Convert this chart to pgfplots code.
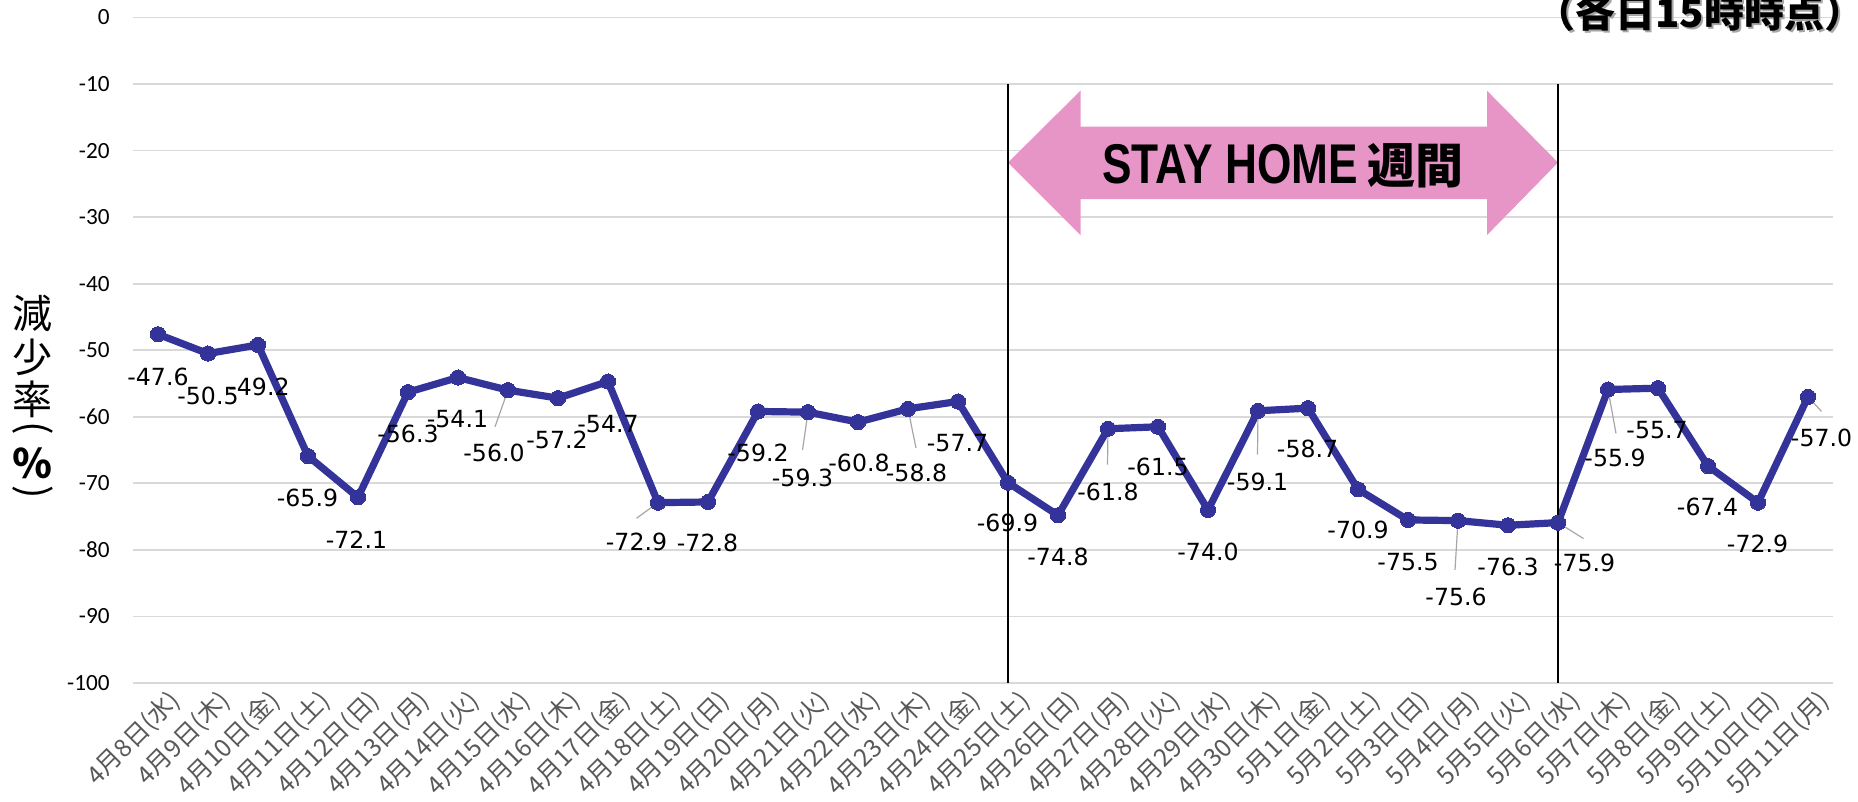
\documentclass[border=0pt]{standalone}
\usepackage{pgfplots}
\pgfplotsset{compat=1.18}
\usepackage{pgfplotstable}
\usepackage{fontspec}
\setmainfont{DejaVu Sans}
\newfontfamily\cjk{Noto Sans CJK JP}
\newfontfamily\carl{Carlito}
\newfontfamily\lsans{Liberation Sans}
\definecolor{navyc}{RGB}{51,51,153}
\definecolor{gridc}{RGB}{217,217,217}
\definecolor{tickc}{RGB}{89,89,89}
\definecolor{leadc}{RGB}{166,166,166}
\definecolor{pinkc}{RGB}{231,149,198}

\pgfplotstableread{
x y lx ly
0 -47.6 0.00 -54.0
1 -50.5 1.00 -56.8
2 -49.2 2.02 -55.5
3 -65.9 2.99 -72.2
4 -72.1 3.97 -78.4
5 -56.3 5.00 -62.5
6 -54.1 5.99 -60.4
7 -56.0 6.72 -65.4
8 -57.2 7.98 -63.5
9 -54.7 9.00 -61.1
10 -72.9 9.57 -78.8
11 -72.8 10.99 -79.0
12 -59.2 12.00 -65.5
13 -59.3 12.89 -69.2
14 -60.8 14.02 -67.0
15 -58.8 15.17 -68.5
16 -57.7 15.99 -63.9
17 -69.9 16.99 -76.0
18 -74.8 18.00 -81.0
19 -61.8 19.00 -71.3
20 -61.5 20.00 -67.6
21 -74.0 21.00 -80.3
22 -59.1 21.99 -69.8
23 -58.7 22.99 -64.9
24 -70.9 24.00 -77.0
25 -75.5 25.00 -81.8
26 -75.6 25.96 -87.0
27 -76.3 27.00 -82.5
28 -75.9 28.53 -82.0
29 -55.9 29.14 -66.2
30 -55.7 29.98 -62.0
31 -67.4 30.99 -73.5
32 -72.9 31.99 -79.1
33 -57.0 33.27 -63.2
}\data

\begin{document}
\begin{tikzpicture}
\begin{axis}[
  at={(0,0)}, anchor=south west,
  scale only axis, width=850pt, height=332.75pt,
  xmin=-0.5, xmax=33.5, ymin=-100, ymax=0,
  xtick={0,...,33},
  xticklabels={4月8日(水),4月9日(木),4月10日(金),4月11日(土),4月12日(日),4月13日(月),4月14日(火),4月15日(水),4月16日(木),4月17日(金),4月18日(土),4月19日(日),4月20日(月),4月21日(火),4月22日(水),4月23日(木),4月24日(金),4月25日(土),4月26日(日),4月27日(月),4月28日(火),4月29日(水),4月30日(木),5月1日(金),5月2日(土),5月3日(日),5月4日(月),5月5日(火),5月6日(水),5月7日(木),5月8日(金),5月9日(土),5月10日(日),5月11日(月)},
  ytick={-100,-90,-80,-70,-60,-50,-40,-30,-20,-10,0},
  yticklabels={-100,-90,-80,-70,-60,-50,-40,-30,-20,-10,0},
  ymajorgrids, grid style={draw=gridc, line width=0.85pt},
  axis line style={draw=none}, tick style={draw=none},
  clip=false,
  yticklabel style={font=\carl\fontsize{11.6}{12}\selectfont, anchor=east, inner sep=0pt, xshift=-11.5pt},
  xticklabel style={font=\cjk\fontsize{12.4}{12.4}\selectfont, text=tickc, rotate=45, anchor=east, inner sep=0pt, yshift=-11pt, xshift=1.5pt},
]
\fill[pinkc] (axis cs:17,-21.8) -- (axis cs:18.45,-11.0) -- (axis cs:18.45,-16.4) -- (axis cs:26.58,-16.4) -- (axis cs:26.58,-11.0) -- (axis cs:28,-21.8) -- (axis cs:26.58,-32.7) -- (axis cs:26.58,-27.3) -- (axis cs:18.45,-27.3) -- (axis cs:18.45,-32.7) -- cycle;
\node[anchor=center, inner sep=0pt] at (axis cs:22.5,-22.3) {\lsans\bfseries\fontsize{28}{28}\selectfont\scalebox{0.79}[1]{STAY HOME}\hspace{5pt}{\cjk\bfseries\fontsize{24}{24}\selectfont 週間}};
\addplot[navyc, line width=3.6pt, line join=round, mark=*, mark size=3.8pt, mark options={fill=navyc, draw=navyc, line width=0pt}] table[x=x,y=y]{\data};
\addplot[draw=none, mark=none, nodes near coords, point meta=explicit symbolic, nodes near coords align={center},
  every node near coord/.append style={font=\fontsize{11.8}{11.8}\selectfont, text=black, anchor=center, inner sep=0pt}] table[x=lx, y=ly, meta=y]{\data};
\begin{scope}[leadc, line width=0.6pt]
\draw (axis cs:7,-56.0) -- (axis cs:6.74,-61.5);
\draw (axis cs:10,-72.9) -- (axis cs:9.57,-75.25);
\draw (axis cs:13,-59.3) -- (axis cs:12.89,-65.0);
\draw (axis cs:15,-58.8) -- (axis cs:15.16,-64.7);
\draw (axis cs:19,-61.8) -- (axis cs:18.99,-67.2);
\draw (axis cs:22,-59.1) -- (axis cs:21.99,-65.7);
\draw (axis cs:26,-75.6) -- (axis cs:25.94,-83.0);
\draw (axis cs:28,-75.9) -- (axis cs:28.51,-78.3);
\draw (axis cs:29,-55.9) -- (axis cs:29.16,-62.5);
\draw (axis cs:33,-57.0) -- (axis cs:33.27,-59.2);
\end{scope}
\draw[black, line width=0.75pt] (axis cs:17,-10) -- (axis cs:17,-100);
\draw[black, line width=0.75pt] (axis cs:28,-10) -- (axis cs:28,-100);
\end{axis}
% y axis label, vertical
\begin{scope}[every node/.style={inner sep=0pt, anchor=center, font=\cjk\fontsize{20}{20}\selectfont}]
\node at (-50pt,185pt) {減};
\node at (-50pt,163pt) {少};
\node at (-50pt,142pt) {率};
\node[rotate=-90] at (-50pt,127.5pt) {(};
\node at (-50pt,110pt) {\bfseries ％};
\node[rotate=-90] at (-50pt,95.5pt) {)};
\end{scope}
% title (partly off the page)
\node[anchor=base west, inner sep=0pt, text=gray!70, font=\cjk\bfseries\fontsize{20}{20}\selectfont] at (702pt,326.5pt) {（各日15時時点）};
\node[anchor=base west, inner sep=0pt, font=\cjk\bfseries\fontsize{20}{20}\selectfont] at (701pt,327.5pt) {（各日15時時点）};
\pgfresetboundingbox
\path[use as bounding box] (-66.5pt,-59.5pt) rectangle (862.5pt,341.5pt);
\end{tikzpicture}
\end{document}
